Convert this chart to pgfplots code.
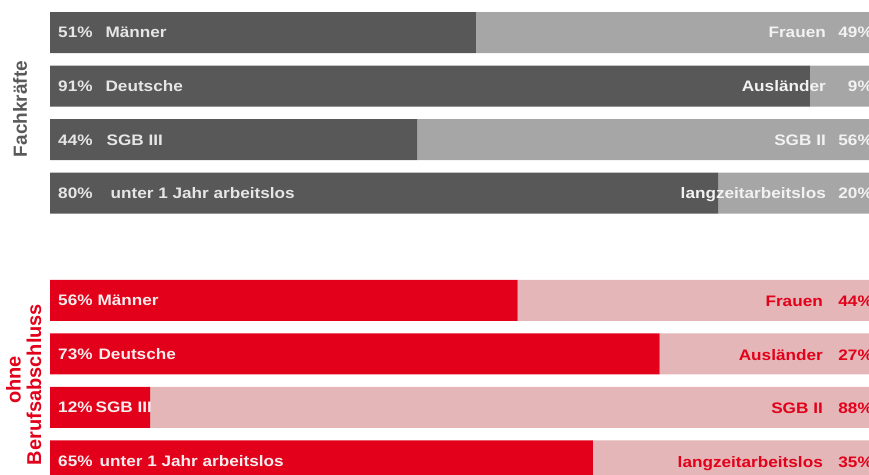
\documentclass[border=0pt]{standalone}
\usepackage{fontspec}
\setmainfont{Liberation Sans}[FakeStretch=1.13]
\newfontfamily\rotfont{Liberation Sans}
\usepackage{pgfplots}
\pgfplotsset{compat=1.18}
\definecolor{dkgray}{HTML}{585858}
\definecolor{ltgray}{HTML}{A6A6A6}
\definecolor{myred}{HTML}{E2001A}
\definecolor{mypink}{HTML}{E4B6B7}
\definecolor{toptxt}{HTML}{E6E6E6}
\definecolor{toprtxt}{HTML}{F2F2F2}
\definecolor{botltxt}{HTML}{F8ECEC}
\definecolor{rotgray}{HTML}{595959}
\tikzset{lbl/.style={font=\bfseries\fontsize{15.2pt}{18pt}\selectfont, inner sep=0pt}}
\begin{document}
\begin{tikzpicture}
\begin{axis}[
  at={(50pt,-5.72pt)}, anchor=north west,
  scale only axis, width=835pt, height=482pt,
  xmin=0, xmax=100, ymin=-0.5, ymax=8.5, y dir=reverse,
  axis lines=none, xbar stacked, bar width=41pt, clip=false,
]
\addplot[fill=dkgray, draw=none] coordinates {(51,0) (91,1) (44,2) (80,3) (0,5) (0,6) (0,7) (0,8)};
\addplot[fill=ltgray, draw=none] coordinates {(49,0) (9,1) (56,2) (20,3) (0,5) (0,6) (0,7) (0,8)};
\addplot[fill=myred, draw=none] coordinates {(0,0) (0,1) (0,2) (0,3) (56,5) (73,6) (12,7) (65,8)};
\addplot[fill=mypink, draw=none] coordinates {(0,0) (0,1) (0,2) (0,3) (44,5) (27,6) (88,7) (35,8)};
\foreach \i in {0,1,2,3,5,6,7,8}{
  \edef\tmp{\noexpand\coordinate (L\i) at (axis cs:0,\i);
            \noexpand\coordinate (R\i) at (axis cs:100,\i);}
  \tmp
}
\end{axis}
% top left labels
\node[lbl, anchor=base west, text=toptxt, xshift=8pt, yshift=-5.5pt] at (L0) {51\%\hspace{13pt}Männer};
\node[lbl, anchor=base west, text=toptxt, xshift=8pt, yshift=-5.5pt] at (L1) {91\%\hspace{13pt}Deutsche};
\node[lbl, anchor=base west, text=toptxt, xshift=8pt, yshift=-5.5pt] at (L2) {44\%\hspace{14pt}SGB III};
\node[lbl, anchor=base west, text=toptxt, xshift=8pt, yshift=-5.5pt] at (L3) {80\%\hspace{18pt}unter 1 Jahr arbeitslos};
% top right labels
\node[lbl, anchor=base east, text=toprtxt, xshift=-59pt, yshift=-5.5pt] at (R0) {Frauen};
\node[lbl, anchor=base east, text=toprtxt, xshift=-59pt, yshift=-5.5pt] at (R1) {Ausländer};
\node[lbl, anchor=base east, text=toprtxt, xshift=-59pt, yshift=-5.5pt] at (R2) {SGB II};
\node[lbl, anchor=base east, text=toprtxt, xshift=-59pt, yshift=-5.5pt] at (R3) {langzeitarbeitslos};
\node[lbl, anchor=base east, text=toprtxt, xshift=-12pt, yshift=-5.5pt] at (R0) {49\%};
\node[lbl, anchor=base east, text=toprtxt, xshift=-12pt, yshift=-5.5pt] at (R1) {9\%};
\node[lbl, anchor=base east, text=toprtxt, xshift=-12pt, yshift=-5.5pt] at (R2) {56\%};
\node[lbl, anchor=base east, text=toprtxt, xshift=-12pt, yshift=-5.5pt] at (R3) {20\%};
% bottom left labels
\node[lbl, anchor=base west, text=botltxt, xshift=8pt, yshift=-5.5pt] at (L5) {56\%\hspace{5pt}Männer};
\node[lbl, anchor=base west, text=botltxt, xshift=8pt, yshift=-5.5pt] at (L6) {73\%\hspace{6pt}Deutsche};
\node[lbl, anchor=base west, text=botltxt, xshift=8pt, yshift=-5.5pt] at (L7) {12\%\hspace{3pt}SGB III};
\node[lbl, anchor=base west, text=botltxt, xshift=8pt, yshift=-5.5pt] at (L8) {65\%\hspace{7pt}unter 1 Jahr arbeitslos};
% bottom right labels
\node[lbl, anchor=base east, text=myred, xshift=-62pt, yshift=-6.5pt] at (R5) {Frauen};
\node[lbl, anchor=base east, text=myred, xshift=-62pt, yshift=-6.5pt] at (R6) {Ausländer};
\node[lbl, anchor=base east, text=myred, xshift=-62pt, yshift=-6.5pt] at (R7) {SGB II};
\node[lbl, anchor=base east, text=myred, xshift=-62pt, yshift=-6.5pt] at (R8) {langzeitarbeitslos};
\node[lbl, anchor=base east, text=myred, xshift=-12pt, yshift=-6.5pt] at (R5) {44\%};
\node[lbl, anchor=base east, text=myred, xshift=-12pt, yshift=-6.5pt] at (R6) {27\%};
\node[lbl, anchor=base east, text=myred, xshift=-12pt, yshift=-6.5pt] at (R7) {88\%};
\node[lbl, anchor=base east, text=myred, xshift=-12pt, yshift=-6.5pt] at (R8) {35\%};
\node[rotate=90, anchor=base, text=rotgray, inner sep=0pt, font=\rotfont\bfseries\fontsize{19pt}{22pt}\selectfont] at (27pt,-109pt) {Fachkräfte};
\node[rotate=90, anchor=base, text=myred, inner sep=0pt, font=\rotfont\bfseries\fontsize{20pt}{22pt}\selectfont] at (20.5pt,-380pt) {ohne};
\node[rotate=90, anchor=base, text=myred, inner sep=0pt, font=\rotfont\bfseries\fontsize{20pt}{22pt}\selectfont] at (41pt,-384.5pt) {Berufsabschluss};
\pgfresetboundingbox
\useasboundingbox (0pt,0pt) rectangle (869pt,-474pt);
\end{tikzpicture}
\end{document}
